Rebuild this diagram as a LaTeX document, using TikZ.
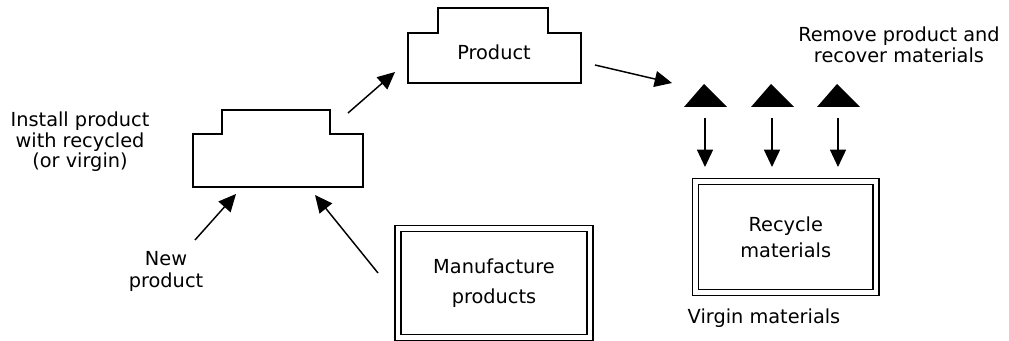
\documentclass[tikz,border=0pt]{standalone}
\usepackage{fontspec}
\setmainfont{DejaVu Sans}
\usetikzlibrary{arrows.meta}

\begin{document}
\begin{tikzpicture}[x = 0.75pt, y = -0.75pt, line width = 1.4pt,
		font = \fontsize{14.5}{15.5}\selectfont,
		txt/.style = {align = center, inner sep = 0pt},
		frame/.style = {draw, double, double distance = 3.6pt,
		line width = 1pt, align = center, inner sep = 0pt},
		arr/.style = {-{Triangle[length = 13pt, width = 12pt]},
		line width = 1.1pt}]

	\useasboundingbox (0,0) rectangle (1009,341);

	\draw (193,187) -- (193,134) -- (222,134) -- (222,110) -- (330,110)
		-- (330,134) -- (363,134) -- (363,187) -- cycle;
	\draw (408,83) -- (408,33) -- (438,33) -- (438,8) -- (548,8)
		-- (548,33) -- (581,33) -- (581,83) -- cycle;
	\node [txt] (product) at (494,52) {Product};

	\node [txt] (install) at (80,142) {Install product\\with recycled\\(or virgin)};
	\node [txt] (newprod) at (166,271) {New\\[1pt]product};
	\node [txt] (remove) at (899,45) {Remove product and\\recover materials};
	\node [txt] (virgin) at (764,318) {Virgin materials};

	\node [frame, minimum width = 135.4pt, minimum height = 83.25pt]
		(recycle) at (785.75,237) {Recycle\\[4pt]materials};
	\node [frame, minimum width = 144pt, minimum height = 81.75pt]
		(manuf) at (494,283) {Manufacture\\[7pt]products};

	\coordinate (inst_out) at (348,113);
	\coordinate (prod_in) at (395,72);
	\coordinate (prod_out) at (595,65);
	\coordinate (remove_in) at (672,83);
	\coordinate (new_out) at (195,240);
	\coordinate (inst_in1) at (236,194);
	\coordinate (manuf_out) at (378,273);
	\coordinate (inst_in2) at (315,195);

	\draw [arr] (inst_out) -- (prod_in);
	\draw [arr] (prod_out) -- (remove_in);
	\draw [arr] (new_out) -- (inst_in1);
	\draw [arr] (manuf_out) -- (inst_in2);

	\foreach \x [count = \i] in {705,772,838} {
		\fill ({\x-21},107) -- ({\x-1},84) -- ({\x+22},107) -- cycle;
		\coordinate (mat_\i) at (\x,118);
		\coordinate (bin_\i) at (\x,167);
		\draw [arr] (mat_\i) -- (bin_\i);
	}
\end{tikzpicture}
\end{document}
